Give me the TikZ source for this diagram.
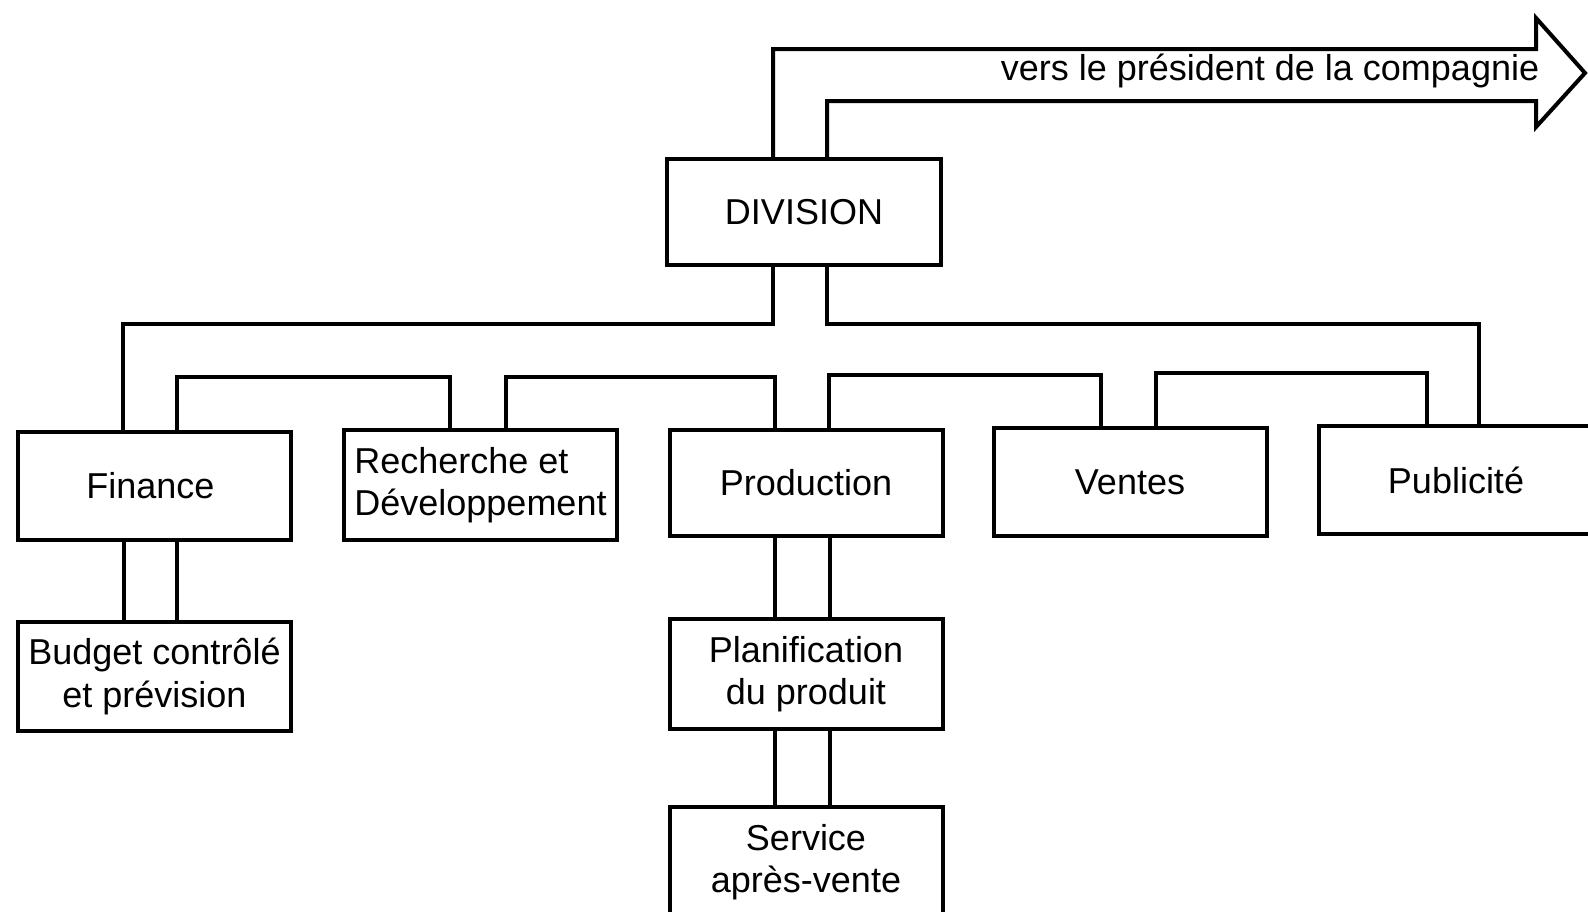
\documentclass[tikz,border=0pt]{standalone}
\usepackage{fontspec}
\setmainfont{Liberation Sans}
\usetikzlibrary{calc}
\begin{document}
\begin{tikzpicture}[x=1pt,y=-1pt,
  ln/.style={line width=4pt},
  box/.style={draw,line width=4pt,minimum width=273pt,minimum height=108pt,inner sep=0pt,align=center,font=\fontsize{36}{42.5}\selectfont},
  lbl/.style={inner sep=0pt,font=\fontsize{36}{42.5}\selectfont}]
\useasboundingbox (0,0) rectangle (1588,911);
\clip (0,0) rectangle (1588,911);
% boxes
\node[box,minimum width=274pt,minimum height=106pt] (div) at (804,212) {DIVISION};
\node[box] (fin) at (154.5,486) {Finance\hspace*{8pt}};
\node[box,minimum height=110pt,align=left] (rd) at (480.5,485) {Recherche et\\Développement};
\node[box,minimum height=106pt] (prod) at (806,483) {Production};
\node[box] (ven) at (1130,482) {Ventes};
\node[box,minimum width=274pt] (pub) at (1456,480) {Publicité};
\node[box,minimum height=109pt] (bud) at (154.5,676.5) {Budget contrôlé\\et prévision};
\node[box,minimum height=110pt] (plan) at (806,674) {Planification\\du produit};
\node[box,minimum height=110pt] (serv) at (806,862) {Service\\après-vente};
% level coordinates
\coordinate (l1) at (0,324);
\coordinate (b1) at (0,377);
\coordinate (b2) at (0,377);
\coordinate (b3) at (0,375);
\coordinate (b4) at (0,373);
% arrow to president
\coordinate (at) at (1536,49);
\coordinate (ahT) at (1536,18);
\coordinate (tip) at (1585,73);
\coordinate (ahB) at (1536,127);
\coordinate (ab) at (1536,101);
\draw[ln] ([xshift=108]div.north west) |- (at) -- (ahT) -- (tip) -- (ahB) -- (ab) -| ([xshift=162]div.north west);
\node[lbl] (arrowlbl) at (1270,71) {vers le président de la compagnie};
% division to finance and publicite
\draw[ln] ([xshift=108]div.south west) coordinate (d1) -- (d1 |- l1) -| ([xshift=107]fin.north west);
\draw[ln] ([xshift=162]div.south west) coordinate (d2) -- (d2 |- l1) -| ([xshift=162]pub.north west);
% brackets between neighbours
\draw[ln] ([xshift=161]fin.north west) coordinate (p1) -- (p1 |- b1) -| ([xshift=108]rd.north west);
\draw[ln] ([xshift=164]rd.north west) coordinate (p2) -- (p2 |- b2) -| ([xshift=107]prod.north west);
\draw[ln] ([xshift=161]prod.north west) coordinate (p3) -- (p3 |- b3) -| ([xshift=109]ven.north west);
\draw[ln] ([xshift=164]ven.north west) coordinate (p4) -- (p4 |- b4) -| ([xshift=110]pub.north west);
% vertical pairs
\draw[ln] ([xshift=108]fin.south west) -- ([xshift=108]bud.north west);
\draw[ln] ([xshift=161]fin.south west) -- ([xshift=161]bud.north west);
\draw[ln] ([xshift=107]prod.south west) -- ([xshift=107]plan.north west);
\draw[ln] ([xshift=162]prod.south west) -- ([xshift=162]plan.north west);
\draw[ln] ([xshift=107]plan.south west) -- ([xshift=107]serv.north west);
\draw[ln] ([xshift=162]plan.south west) -- ([xshift=162]serv.north west);
\end{tikzpicture}
\end{document}
